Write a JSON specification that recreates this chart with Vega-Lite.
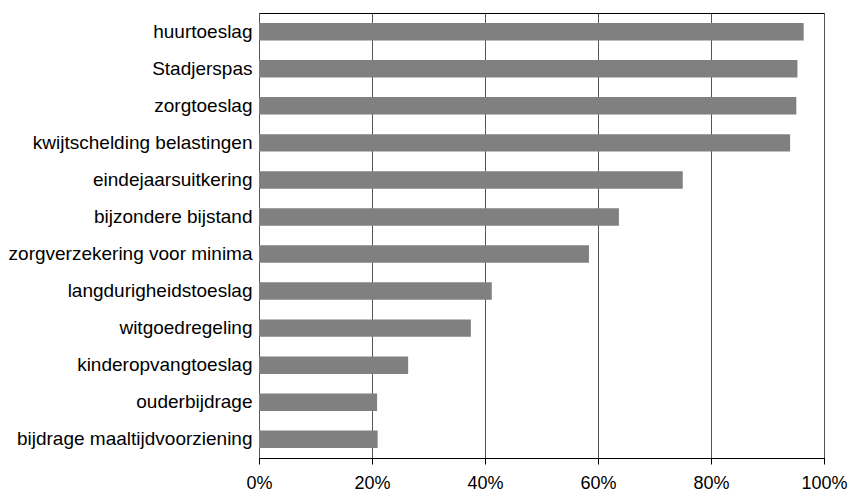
{
  "$schema": "https://vega.github.io/schema/vega-lite/v6.json",
  "autosize": "none",
  "padding": {"left": 259, "top": 13, "right": 28, "bottom": 37},
  "width": 565,
  "height": 445,
  "background": "white",
  "config": {
    "view": {"stroke": "black", "strokeWidth": 1},
    "font": "Liberation Sans"
  },
  "data": {
    "values": [
      {"regeling": "huurtoeslag", "aandeel": 0.964},
      {"regeling": "Stadjerspas", "aandeel": 0.953},
      {"regeling": "zorgtoeslag", "aandeel": 0.951},
      {"regeling": "kwijtschelding belastingen", "aandeel": 0.940},
      {"regeling": "eindejaarsuitkering", "aandeel": 0.750},
      {"regeling": "bijzondere bijstand", "aandeel": 0.637},
      {"regeling": "zorgverzekering voor minima", "aandeel": 0.584},
      {"regeling": "langdurigheidstoeslag", "aandeel": 0.412},
      {"regeling": "witgoedregeling", "aandeel": 0.375},
      {"regeling": "kinderopvangtoeslag", "aandeel": 0.264},
      {"regeling": "ouderbijdrage", "aandeel": 0.209},
      {"regeling": "bijdrage maaltijdvoorziening", "aandeel": 0.210}
    ]
  },
  "mark": {"type": "bar", "color": "#808080"},
  "encoding": {
    "y": {
      "field": "regeling",
      "type": "nominal",
      "sort": null,
      "scale": {"paddingInner": 0.53, "paddingOuter": 0.27},
      "axis": {
        "title": null,
        "domain": false,
        "ticks": false,
        "labelFontSize": 19,
        "labelColor": "black",
        "labelPadding": 7,
        "labelLimit": 300
      }
    },
    "x": {
      "field": "aandeel",
      "type": "quantitative",
      "scale": {"domain": [0, 1], "nice": false},
      "axis": {
        "title": null,
        "format": ".0%",
        "values": [0, 0.2, 0.4, 0.6, 0.8, 1],
        "grid": true,
        "gridColor": "#555555",
        "gridWidth": 1,
        "domainColor": "black",
        "tickColor": "black",
        "tickSize": 6,
        "labelFlush": false,
        "labelFontSize": 18,
        "labelColor": "black",
        "labelPadding": 10
      }
    }
  }
}
